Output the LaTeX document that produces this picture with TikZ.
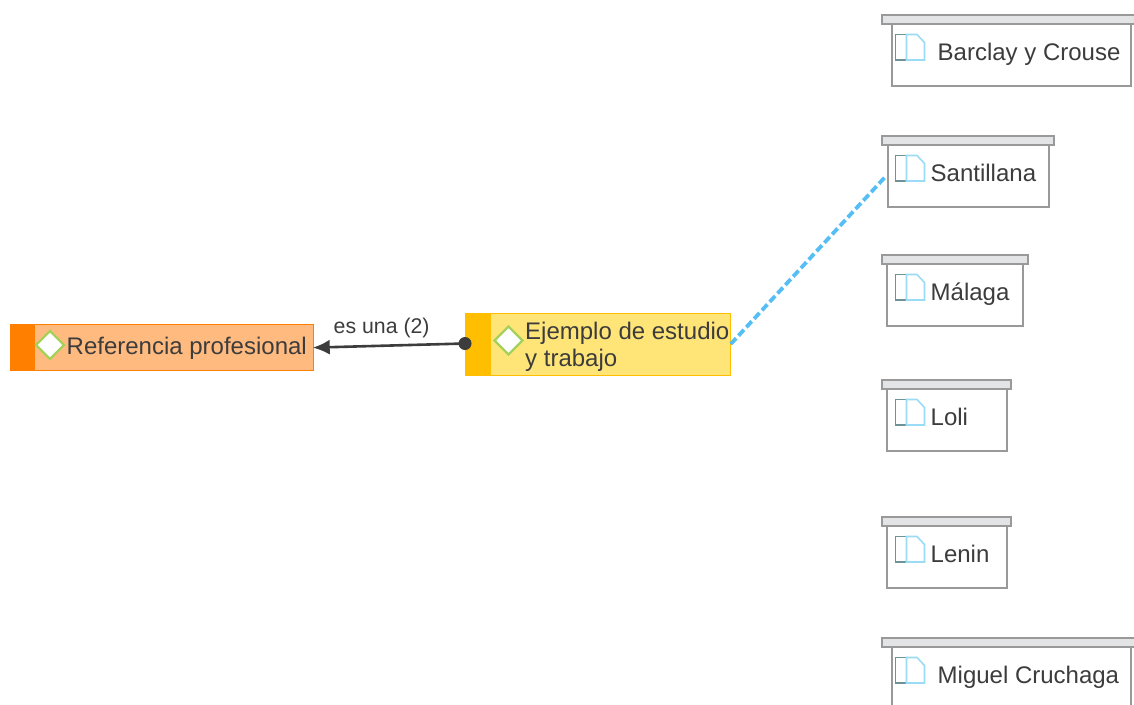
\documentclass[tikz,border=0pt]{standalone}
\usepackage{fontspec}
\setmainfont{Liberation Sans}
\usetikzlibrary{positioning,calc,shapes.geometric,arrows.meta}
\definecolor{inktext}{HTML}{3C3C3C}
\definecolor{barfill}{HTML}{E3E4E6}
\definecolor{boxline}{HTML}{999999}
\definecolor{iconblue}{HTML}{9ADCF5}
\definecolor{icondark}{HTML}{6F9297}
\definecolor{linkblue}{HTML}{55BFF5}
\definecolor{gemgreen}{HTML}{A5D15A}
\definecolor{refdark}{HTML}{FF8000}
\definecolor{reffill}{HTML}{FFBA80}
\definecolor{ejedark}{HTML}{FFBE00}
\definecolor{ejefill}{HTML}{FFE478}
\tikzset{
	titlebar/.style={draw=boxline, fill=barfill, line width=2pt, inner sep=0pt, anchor=north west, minimum height=9pt},
	docbox/.style={draw=boxline, fill=white, line width=2pt, inner sep=0pt, anchor=north west, minimum height=62pt},
	doclabel/.style={text=inktext, font=\fontsize{24}{28}\selectfont, inner sep=0pt, anchor=base west},
	concept/.style={inner sep=0pt, anchor=north west, line width=1.2pt},
	gem/.style={diamond, draw=gemgreen, fill=white, line width=2.3pt, inner sep=0pt, minimum width=29pt, minimum height=29pt},
}
% bar left, bar width, box left, box width, top, name, text left, text
\newcommand{\docnode}[8]{
	\node[docbox, minimum width=#4pt] (#6) at (#3pt,-#5pt-9pt) {};
	\node[titlebar, minimum width=#2pt] (#6bar) at (#1pt,-#5pt) {};
	\draw[icondark, line width=1.6pt, fill=white] (896pt,-#5pt-21pt) rectangle (907pt,-#5pt-46.5pt);
	\draw[iconblue, line width=1.6pt] (907pt,-#5pt-21pt) -- (917.5pt,-#5pt-21pt) -- (925pt,-#5pt-29pt) -- (925pt,-#5pt-46.5pt) -- (907pt,-#5pt-46.5pt) -- cycle;
	\node[doclabel] (#6text) at (#7pt,-#5pt-47pt) {#8};
}
\begin{document}
\begin{tikzpicture}
	\useasboundingbox (0.5pt,-0.5pt) rectangle (1134.5pt,-704.5pt);
	\clip (0.5pt,-0.5pt) rectangle (1134.5pt,-704.5pt);

	% concepts
	\node[concept, draw=refdark, fill=reffill, minimum width=303pt, minimum height=46pt] (referencia) at (10.5pt,-324.5pt) {};
	\fill[refdark] (10.5pt,-324.5pt) rectangle (35pt,-370.5pt);
	\node[gem] (gemref) at (50.5pt,-345.5pt) {};
	\node[doclabel] (referenciatext) at (67pt,-355pt) {Referencia profesional};

	\node[concept, draw=ejedark, fill=ejefill, minimum width=265pt, minimum height=62pt] (ejemplo) at (465pt,-313pt) {};
	\fill[ejedark] (465pt,-313pt) rectangle (491pt,-375pt);
	\node[gem] (gemeje) at (509pt,-341pt) {};
	\node[doclabel] (ejemplotext) at (525.5pt,-340pt) {Ejemplo de estudio};
	\node[doclabel, below=27pt of ejemplotext.base west, anchor=base west] (ejemplotextb) {y trabajo};

	% documents
	\docnode{881}{260}{891}{239}{14}{barclay}{938}{Barclay y Crouse}
	\docnode{881}{172}{887}{161}{135}{santillana}{931}{Santillana}
	\docnode{881}{146}{886}{136}{254}{malaga}{931}{Málaga}
	\docnode{881}{129}{886}{120}{379}{loli}{931}{Loli}
	\docnode{881}{129}{886}{120}{516}{lenin}{931}{Lenin}
	\docnode{881}{260}{891}{239}{637}{miguel}{938}{Miguel Cruchaga}

	% connectors
	\node[circle, fill=inktext, inner sep=0pt, minimum size=13pt] (dot) at (465.5pt,-344pt) {};
	\draw[inktext, line width=2.6pt, -{Latex[length=17pt,width=15pt]}, shorten >=-1.5pt] (dot.center) -- (referencia.east);
	\node[text=inktext, font=\fontsize{21.3}{24}\selectfont, inner sep=0pt, anchor=base west] (esuna) at (334pt,-334pt) {es una (2)};
	\draw[linkblue, line width=3.8pt, dash pattern=on 8pt off 3.5pt] (ejemplo.east) -- (santillana.west);
\end{tikzpicture}
\end{document}
